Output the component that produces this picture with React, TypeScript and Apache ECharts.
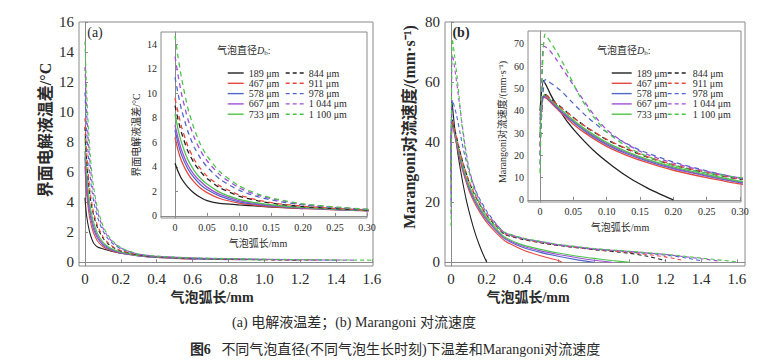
import React, { useEffect, useRef } from "react";
import * as echarts from "echarts";

const FONT = "'Liberation Serif','Times New Roman','Noto Sans CJK SC',serif";

const sizeLabels = ["189 μm", "467 μm", "578 μm", "667 μm", "733 μm", "844 μm", "911 μm", "978 μm", "1 044 μm", "1 100 μm"];
const lineColors = ["#222222", "#e8463f", "#5068c8", "#a24fd8", "#4cc44c", "#222222", "#e8463f", "#5068c8", "#a24fd8", "#4cc44c"];

// Interfacial electrolyte temperature difference (°C) vs arc length (mm)
const T189 = [[0, 4.3], [0.005, 3.6], [0.01, 3.05], [0.02, 2.35], [0.03, 1.85], [0.04, 1.5], [0.05, 1.25], [0.07, 1.02], [0.1, 0.9], [0.13, 0.8], [0.16, 0.7], [0.2, 0.6]];
const T467 = [[0, 6.4], [0.005, 5.3], [0.01, 4.5], [0.02, 3.45], [0.03, 2.75], [0.04, 2.25], [0.05, 1.9], [0.07, 1.42], [0.1, 1.05], [0.13, 0.85], [0.16, 0.72], [0.2, 0.6], [0.25, 0.5], [0.3, 0.42], [0.4, 0.32], [0.5, 0.25], [0.62, 0.2]];
const T578 = [[0, 7.0], [0.005, 5.9], [0.01, 5.0], [0.02, 3.85], [0.03, 3.1], [0.04, 2.55], [0.05, 2.15], [0.07, 1.62], [0.1, 1.15], [0.13, 0.92], [0.16, 0.77], [0.2, 0.63], [0.25, 0.52], [0.3, 0.43], [0.4, 0.33], [0.6, 0.23], [0.8, 0.18]];
const T667 = [[0, 7.4], [0.005, 6.3], [0.01, 5.4], [0.02, 4.15], [0.03, 3.35], [0.04, 2.8], [0.05, 2.35], [0.07, 1.75], [0.1, 1.25], [0.13, 0.98], [0.16, 0.81], [0.2, 0.66], [0.25, 0.54], [0.3, 0.44], [0.4, 0.34], [0.6, 0.24], [0.8, 0.19], [0.9, 0.17]];
const T733 = [[0, 8.3], [0.005, 7.0], [0.01, 6.0], [0.02, 4.6], [0.03, 3.7], [0.04, 3.05], [0.05, 2.6], [0.07, 1.92], [0.1, 1.35], [0.13, 1.04], [0.16, 0.85], [0.2, 0.69], [0.25, 0.56], [0.3, 0.45], [0.4, 0.35], [0.6, 0.25], [0.8, 0.2], [1.0, 0.16]];
const T844 = [[0, 9.0], [0.005, 7.8], [0.01, 6.8], [0.02, 5.3], [0.03, 4.3], [0.04, 3.6], [0.05, 3.05], [0.07, 2.3], [0.1, 1.62], [0.13, 1.22], [0.16, 0.97], [0.2, 0.76], [0.25, 0.6], [0.3, 0.48], [0.4, 0.36], [0.6, 0.26], [0.8, 0.21], [1.0, 0.17], [1.2, 0.14]];
const T911 = [[0, 9.6], [0.005, 8.4], [0.01, 7.3], [0.02, 5.7], [0.03, 4.6], [0.04, 3.85], [0.05, 3.25], [0.07, 2.45], [0.1, 1.72], [0.13, 1.28], [0.16, 1.01], [0.2, 0.79], [0.25, 0.62], [0.3, 0.49], [0.4, 0.37], [0.6, 0.27], [0.8, 0.22], [1.0, 0.18], [1.2, 0.15], [1.3, 0.14]];
const T978 = [[0, 11.3], [0.005, 9.9], [0.01, 8.7], [0.02, 6.9], [0.03, 5.6], [0.04, 4.7], [0.05, 4.0], [0.07, 3.0], [0.1, 2.1], [0.13, 1.55], [0.16, 1.2], [0.2, 0.9], [0.25, 0.68], [0.3, 0.52], [0.4, 0.39], [0.6, 0.28], [0.8, 0.23], [1.0, 0.19], [1.2, 0.16], [1.4, 0.14]];
const T1044 = [[0, 13.0], [0.005, 11.4], [0.01, 10.0], [0.02, 7.9], [0.03, 6.4], [0.04, 5.3], [0.05, 4.5], [0.07, 3.35], [0.1, 2.3], [0.13, 1.68], [0.16, 1.3], [0.2, 0.95], [0.25, 0.71], [0.3, 0.54], [0.4, 0.4], [0.6, 0.29], [0.8, 0.24], [1.0, 0.2], [1.2, 0.17], [1.5, 0.14]];
const T1100 = [[0, 14.7], [0.005, 12.9], [0.01, 11.3], [0.02, 8.8], [0.03, 7.1], [0.04, 5.8], [0.05, 4.9], [0.07, 3.6], [0.1, 2.45], [0.13, 1.78], [0.16, 1.36], [0.2, 0.98], [0.25, 0.73], [0.3, 0.55], [0.4, 0.41], [0.6, 0.3], [0.8, 0.25], [1.0, 0.21], [1.2, 0.18], [1.4, 0.16], [1.6, 0.14]];

// Marangoni convection velocity (mm/s) vs arc length (mm)
const V189 = [[0, 40], [0.005, 53.5], [0.01, 51], [0.015, 47.8], [0.02, 45], [0.03, 40], [0.04, 35.5], [0.06, 28.4], [0.085, 20.9], [0.11, 14.9], [0.135, 9.7], [0.16, 5.5], [0.18, 2.6], [0.2, 0]];
const V467 = [[0, 38], [0.005, 46], [0.01, 45.5], [0.02, 42.5], [0.03, 39.5], [0.05, 34], [0.07, 29.5], [0.1, 24], [0.13, 20], [0.16, 16.8], [0.2, 13.3], [0.25, 10], [0.3, 7.2], [0.4, 4.2], [0.5, 2.2], [0.6, 0.6], [0.62, 0]];
const V578 = [[0, 36], [0.005, 46.5], [0.01, 46], [0.02, 43], [0.03, 40], [0.05, 34.8], [0.07, 30.3], [0.1, 24.8], [0.13, 20.7], [0.16, 17.5], [0.2, 14], [0.25, 10.7], [0.3, 7.8], [0.4, 5], [0.5, 3.3], [0.6, 2], [0.7, 0.9], [0.8, 0]];
const V667 = [[0, 34], [0.005, 46.5], [0.01, 46.2], [0.02, 43.4], [0.03, 40.5], [0.05, 35.3], [0.07, 30.8], [0.1, 25.3], [0.13, 21.2], [0.16, 17.9], [0.2, 14.4], [0.25, 11], [0.3, 8.1], [0.4, 5.4], [0.5, 3.8], [0.6, 2.6], [0.7, 1.6], [0.8, 0.7], [0.9, 0]];
const V733 = [[0, 30], [0.005, 47], [0.01, 46.5], [0.02, 43.8], [0.03, 41], [0.05, 35.8], [0.07, 31.3], [0.1, 25.8], [0.13, 21.7], [0.16, 18.3], [0.2, 14.8], [0.25, 11.4], [0.3, 8.4], [0.4, 5.8], [0.5, 4.3], [0.6, 3.1], [0.7, 2.1], [0.8, 1.3], [0.9, 0.6], [1.0, 0]];
const V844 = [[0, 28], [0.005, 47.5], [0.01, 47], [0.02, 44.5], [0.03, 42], [0.05, 37], [0.07, 32.5], [0.1, 27], [0.13, 22.8], [0.16, 19.3], [0.2, 15.6], [0.25, 12.2], [0.3, 9.3], [0.4, 7.6], [0.5, 6.5], [0.6, 5.6], [0.8, 4.2], [1.0, 3.0], [1.1, 2.0], [1.2, 0.6]];
const V911 = [[0, 24], [0.005, 47], [0.01, 46.8], [0.02, 44.3], [0.03, 41.8], [0.05, 37], [0.07, 32.6], [0.1, 27.2], [0.13, 23], [0.16, 19.5], [0.2, 15.8], [0.25, 12.4], [0.3, 9.5], [0.4, 7.8], [0.5, 6.6], [0.6, 5.7], [0.8, 4.3], [1.0, 3.3], [1.2, 1.8], [1.3, 0.6]];
const V978 = [[0, 20], [0.008, 54], [0.03, 49.3], [0.05, 43.3], [0.07, 37.4], [0.095, 31.4], [0.12, 26.9], [0.15, 22.3], [0.2, 17], [0.25, 13], [0.3, 9.8], [0.4, 7.9], [0.5, 6.8], [0.6, 5.8], [0.8, 4.4], [1.0, 3.5], [1.2, 2.4], [1.3, 1.6], [1.4, 0.5]];
const V1044 = [[0, 16], [0.005, 69], [0.012, 68], [0.025, 62.8], [0.045, 53.8], [0.06, 47], [0.08, 38.5], [0.1, 31.5], [0.13, 25], [0.16, 20.5], [0.2, 16.5], [0.25, 12.8], [0.3, 9.9], [0.4, 8.0], [0.5, 6.9], [0.6, 5.9], [0.8, 4.5], [1.0, 3.6], [1.2, 2.6], [1.4, 1.2], [1.5, 0.4]];
const V1100 = [[0, 12], [0.0075, 74.4], [0.025, 66.5], [0.04, 58.3], [0.06, 46.3], [0.08, 37.4], [0.1, 30.5], [0.135, 23], [0.185, 16.8], [0.235, 12.9], [0.3, 10], [0.4, 8.1], [0.5, 7.0], [0.6, 6.0], [0.8, 4.6], [1.0, 3.7], [1.2, 2.7], [1.4, 1.4], [1.6, 0.2]];

const tempSeriesData = [T189, T467, T578, T667, T733, T844, T911, T978, T1044, T1100];
const velSeriesData = [V189, V467, V578, V667, V733, V844, V911, V978, V1044, V1100];

const mainXTicks = [0, 0.2, 0.4, 0.6, 0.8, 1.0, 1.2, 1.4, 1.6];
const insetXTicks = [0, 0.05, 0.1, 0.15, 0.2, 0.25, 0.3];
const tempMainYTicks = [0, 2, 4, 6, 8, 10, 12, 14, 16];
const tempInsetYTicks = [0, 2, 4, 6, 8, 10, 12, 14];
const velMainYTicks = [0, 20, 40, 60, 80];
const velInsetYTicks = [0, 10, 20, 30, 40, 50, 60, 70];

const AXIS_COLOR = "#8a8a8a";
const TEXT_COLOR = "#2a2a2a";

function fmtMainX(v: number) {
  return v === 0 ? "0" : v.toFixed(1);
}
function fmtInsetX(v: number) {
  return v === 0 ? "0" : v.toFixed(2);
}

function makeAxis(gridIndex: number, min: number, max: number, ticks: number[], fontSize: number, fmt: (v: number) => string, margin: number, z: number) {
  return {
    type: "value",
    gridIndex,
    min,
    max,
    z,
    axisLine: { show: true, lineStyle: { color: AXIS_COLOR, width: 1 } },
    axisTick: { show: true, inside: true, length: 3, customValues: ticks, lineStyle: { color: AXIS_COLOR } },
    axisLabel: { show: true, customValues: ticks, formatter: fmt, fontSize, fontFamily: FONT, color: TEXT_COLOR, margin },
    splitLine: { show: false },
  };
}

export default function App() {
  const ref = useRef<HTMLDivElement>(null);

  useEffect(() => {
    if (!ref.current) return;
    const chart = echarts.init(ref.current, undefined, { renderer: "svg" });

    const series: any[] = [];
    const addSeries = (dataList: number[][][], mainIdx: number, insetIdx: number) => {
      dataList.forEach((d, i) => {
        const dashed = i >= 5;
        series.push({
          type: "line",
          name: sizeLabels[i],
          xAxisIndex: mainIdx,
          yAxisIndex: mainIdx,
          data: d,
          symbol: "none",
          smooth: 0.2,
          z: 1,
          lineStyle: { color: lineColors[i], width: 1.1, type: dashed ? [4, 3] : "solid" },
          itemStyle: { color: lineColors[i] },
        });
        series.push({
          type: "line",
          name: sizeLabels[i],
          xAxisIndex: insetIdx,
          yAxisIndex: insetIdx,
          data: d,
          symbol: "none",
          smooth: 0.2,
          z: 8,
          lineStyle: { color: lineColors[i], width: 1.3, type: dashed ? [5, 4] : "solid" },
          itemStyle: { color: lineColors[i] },
        });
      });
    };
    addSeries(tempSeriesData, 0, 1);
    addSeries(velSeriesData, 2, 3);

    const legendBase = {
      orient: "vertical",
      selectedMode: false,
      itemGap: 0.3,
      itemHeight: 10,
      itemStyle: { opacity: 0 },
      lineStyle: { width: 1.4 },
      textStyle: { fontSize: 10, fontFamily: FONT, color: TEXT_COLOR, lineHeight: 10 },
      z: 10,
    };

    const titleStyle = (text: string, size: number, bold: boolean) => ({
      text,
      font: `${bold ? "bold " : ""}${size}px ${FONT}`,
      fill: TEXT_COLOR,
      align: "center",
      verticalAlign: "middle",
    });

    const legendTitle = (x: number) => ({
      type: "text",
      x,
      y: 50,
      z: 20,
      style: {
        text: "气泡直径{i|D}{s|b}:",
        font: `10px ${FONT}`,
        fill: TEXT_COLOR,
        verticalAlign: "middle",
        rich: {
          i: { fontStyle: "italic", fontSize: 10, fontFamily: FONT, fill: TEXT_COLOR },
          s: { fontSize: 7, fontFamily: FONT, fill: TEXT_COLOR, padding: [5, 0, 0, 0] },
        },
      },
    });

    const option: any = {
      animation: false,
      backgroundColor: "#ffffff",
      grid: [
        { left: 79, top: 22, width: 294, height: 244, show: true, borderColor: AXIS_COLOR, borderWidth: 1, backgroundColor: "#ffffff", z: 0 },
        { left: 161, top: 32, width: 206, height: 186, show: true, borderColor: AXIS_COLOR, borderWidth: 1, backgroundColor: "#ffffff", z: 5 },
        { left: 445, top: 22, width: 300, height: 244, show: true, borderColor: AXIS_COLOR, borderWidth: 1, backgroundColor: "#ffffff", z: 0 },
        { left: 528, top: 31, width: 213, height: 171, show: true, borderColor: AXIS_COLOR, borderWidth: 1, backgroundColor: "#ffffff", z: 5 },
      ],
      xAxis: [
        makeAxis(0, -0.033, 1.6056, mainXTicks, 15, fmtMainX, 5, 0),
        makeAxis(1, -0.0219, 0.3, insetXTicks, 10, fmtInsetX, 4, 6),
        makeAxis(2, -0.0336, 1.645, mainXTicks, 15, fmtMainX, 5, 0),
        makeAxis(3, -0.018, 0.3015, insetXTicks, 10, fmtInsetX, 4, 6),
      ],
      yAxis: [
        makeAxis(0, -0.246, 16, tempMainYTicks, 15, (v: number) => String(v), 5, 0),
        makeAxis(1, -0.17, 15.0, tempInsetYTicks, 10, (v: number) => String(v), 4, 6),
        makeAxis(2, -1.23, 80, velMainYTicks, 15, (v: number) => String(v), 5, 0),
        makeAxis(3, -0.95, 75.8, velInsetYTicks, 10, (v: number) => String(v), 4, 6),
      ],
      legend: [
        { ...legendBase, data: sizeLabels.slice(0, 5), left: 222, top: 63, itemWidth: 16 },
        { ...legendBase, data: sizeLabels.slice(5), left: 280, top: 63, itemWidth: 18 },
        { ...legendBase, data: sizeLabels.slice(0, 5), left: 606, top: 63, itemWidth: 20 },
        { ...legendBase, data: sizeLabels.slice(5), left: 662, top: 63, itemWidth: 20 },
      ],
      graphic: [
        { type: "text", x: 95, y: 32, z: 20, style: titleStyle("(a)", 14, false) },
        { type: "text", x: 461, y: 32, z: 20, style: titleStyle("(b)", 14, true) },
        { type: "text", x: 45, y: 130, rotation: Math.PI / 2, z: 20, style: titleStyle("界面电解液温差/°C", 16, true) },
        { type: "text", x: 409, y: 127, rotation: Math.PI / 2, z: 20, style: titleStyle("Marangoni对流速度/(mm·s⁻¹)", 16, true) },
        { type: "text", x: 212, y: 297, z: 20, style: titleStyle("气泡弧长/mm", 14, true) },
        { type: "text", x: 528, y: 297, z: 20, style: titleStyle("气泡弧长/mm", 14, true) },
        { type: "text", x: 136, y: 135, rotation: Math.PI / 2, z: 20, style: titleStyle("界面电解液温差/°C", 10, false) },
        { type: "text", x: 502, y: 122, rotation: Math.PI / 2, z: 20, style: titleStyle("Marangoni对流速度/(mm·s⁻¹)", 10, false) },
        { type: "text", x: 258, y: 243, z: 20, style: titleStyle("气泡弧长/mm", 10, false) },
        { type: "text", x: 620, y: 227, z: 20, style: titleStyle("气泡弧长/mm", 10, false) },
        legendTitle(217),
        legendTitle(597),
        { type: "text", x: 354, y: 322, z: 20, style: titleStyle("(a) 电解液温差；(b) Marangoni 对流速度", 14, false) },
        {
          type: "text",
          x: 395,
          y: 349,
          z: 20,
          style: {
            text: "{b|图6}   不同气泡直径(不同气泡生长时刻)下温差和Marangoni对流速度",
            font: `14px ${FONT}`,
            fill: TEXT_COLOR,
            align: "center",
            verticalAlign: "middle",
            rich: { b: { fontWeight: "bold", fontSize: 14, fontFamily: FONT, fill: TEXT_COLOR } },
          },
        },
      ],
      series,
    };

    chart.setOption(option);
    return () => chart.dispose();
  }, []);

  return <div ref={ref} style={{ position: "absolute", left: 0, top: 0, width: 767, height: 364, background: "#fff" }} />;
}
